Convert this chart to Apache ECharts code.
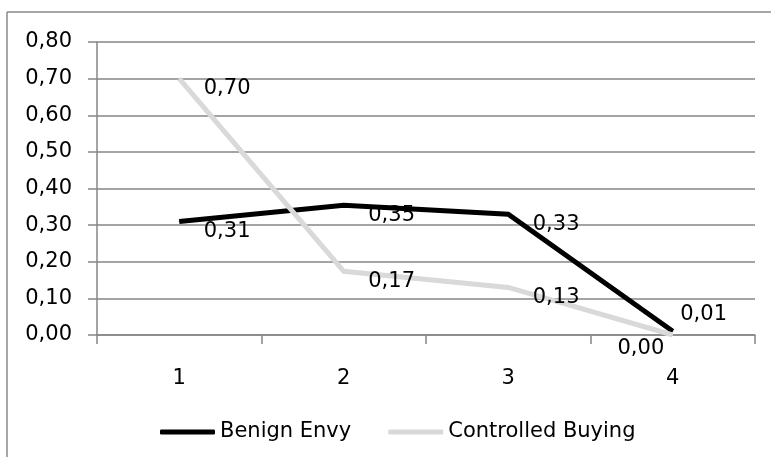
<!DOCTYPE html>
<html>
<head>
<meta charset="utf-8">
<script src="https://cdn.jsdelivr.net/npm/echarts@6/dist/echarts.min.js"></script>
<style>html,body{margin:0;padding:0;background:#fff;}#c{width:771px;height:457px;}</style>
</head>
<body>
<div id="c"></div>
<script>
const categories = ['1', '2', '3', '4'];
const benignEnvy = [0.31, 0.354, 0.33, 0.01];
const controlledBuying = [0.70, 0.174, 0.13, 0.00];

const FONT = 'DejaVu Sans';
const FS = 21;
const fmt = v => v.toFixed(2).replace('.', ',');

function labelFor(seriesName, i) {
  if (seriesName === 'Benign Envy' && i === 3) return { position: 'right', offset: [2, -17] };
  if (seriesName === 'Controlled Buying' && i === 3) return { position: 'left', offset: [-3, 14] };
  return { position: 'right', offset: [19, 10] };
}
function buildData(name, arr) {
  return arr.map((v, i) => ({ value: v, label: labelFor(name, i) }));
}

const chart = echarts.init(document.getElementById('c'));
chart.setOption({
  animation: false,
  backgroundColor: '#fff',
  graphic: [
    { type: 'line', shape: { x1: 7, y1: 12, x2: 771, y2: 12 }, style: { stroke: '#8a8a8a', lineWidth: 1.5 } },
    { type: 'line', shape: { x1: 7, y1: 12, x2: 7, y2: 457 }, style: { stroke: '#8a8a8a', lineWidth: 1.5 } }
  ],
  grid: { left: 97, right: 16, top: 42, bottom: 122, containLabel: false },
  xAxis: {
    type: 'category',
    data: categories,
    boundaryGap: true,
    axisLine: { show: true, lineStyle: { color: '#868686', width: 1.5 } },
    axisTick: { show: true, interval: 0, length: 9, lineStyle: { color: '#868686', width: 1.5 } },
    axisLabel: { margin: 33, fontFamily: FONT, fontSize: FS, color: '#000' },
    splitLine: { show: false }
  },
  yAxis: {
    type: 'value',
    min: 0, max: 0.8, interval: 0.1,
    axisLine: { show: true, lineStyle: { color: '#868686', width: 1.5 } },
    axisTick: { show: true, length: 9, lineStyle: { color: '#868686', width: 1.5 } },
    axisLabel: { margin: 25, fontFamily: FONT, fontSize: FS, color: '#000', formatter: v => fmt(v) },
    splitLine: { show: true, lineStyle: { color: '#868686', width: 1.5 } }
  },
  legend: {
    top: 420,
    left: 160,
    itemWidth: 55,
    itemHeight: 5,
    itemGap: 37,
    icon: 'roundRect',
    padding: 0,
    textStyle: { fontFamily: FONT, fontSize: FS, color: '#000', lineHeight: 24 },
    data: ['Benign Envy', 'Controlled Buying']
  },
  series: [
    {
      name: 'Benign Envy', type: 'line',
      data: buildData('Benign Envy', benignEnvy),
      symbol: 'circle', symbolSize: 1, showSymbol: true,
      itemStyle: { color: '#000' },
      lineStyle: { color: '#000', width: 5, join: 'miter' },
      label: { show: true, fontFamily: FONT, fontSize: FS, color: '#000', formatter: p => fmt(p.value) },
      z: 2
    },
    {
      name: 'Controlled Buying', type: 'line',
      data: buildData('Controlled Buying', controlledBuying),
      symbol: 'circle', symbolSize: 1, showSymbol: true,
      itemStyle: { color: '#d9d9d9' },
      lineStyle: { color: '#d9d9d9', width: 5, join: 'miter' },
      label: { show: true, fontFamily: FONT, fontSize: FS, color: '#000', formatter: p => fmt(p.value) },
      z: 3
    }
  ]
});
</script>
</body>
</html>
